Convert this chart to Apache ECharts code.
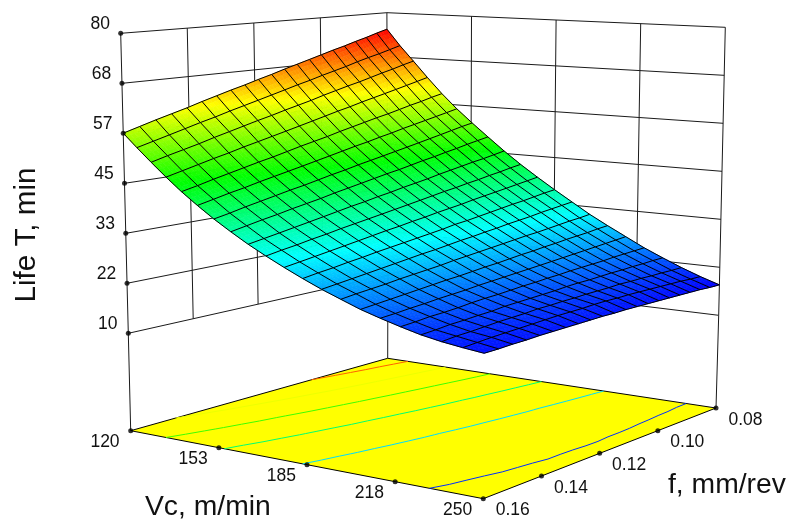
<!DOCTYPE html>
<html>
<head>
<meta charset="utf-8">
<script src="https://cdn.jsdelivr.net/npm/echarts@6/dist/echarts.min.js"></script>
<style>html,body{margin:0;padding:0;background:#fff}#c{width:790px;height:522px}</style>
</head>
<body>
<div id="c"></div>
<script>
// ---- data ----
const vcGrid = [120,126.5,133,139.5,146,152.5,159,165.5,172,178.5,185,191.5,198,204.5,211,217.5,224,230.5,237,243.5,250];
const fGrid = [0.16,0.156,0.152,0.148,0.144,0.14,0.136,0.132,0.128,0.124,0.12,0.116,0.112,0.108,0.104,0.1,0.096,0.092,0.088,0.084,0.08];
// Life T (min) : one list per Vc column, running along fGrid
const lifeVc00 = [56.7,57.8,58.9,59.9,60.9,62.0,63.0,64.0,64.9,65.9,66.8,67.8,68.7,69.6,70.5,71.4,72.2,73.1,73.9,74.8,75.6];
const lifeVc01 = [53.7,54.7,55.7,56.7,57.7,58.6,59.6,60.5,61.4,62.3,63.2,64.1,64.9,65.8,66.6,67.4,68.3,69.1,69.8,70.6,71.4];
const lifeVc02 = [50.7,51.7,52.6,53.5,54.5,55.4,56.3,57.2,58.0,58.9,59.7,60.5,61.4,62.2,63.0,63.7,64.5,65.3,66.0,66.8,67.5];
const lifeVc03 = [47.7,48.6,49.5,50.4,51.2,52.1,52.9,53.7,54.5,55.3,56.1,56.9,57.7,58.4,59.2,59.9,60.6,61.3,62.0,62.7,63.4];
const lifeVc04 = [44.8,45.6,46.5,47.3,48.1,48.9,49.6,50.4,51.2,51.9,52.6,53.4,54.1,54.8,55.5,56.1,56.8,57.5,58.1,58.8,59.4];
const lifeVc05 = [42.1,42.9,43.7,44.4,45.2,45.9,46.6,47.3,48.0,48.7,49.4,50.1,50.7,51.4,52.0,52.7,53.3,53.9,54.5,55.1,55.7];
const lifeVc06 = [39.5,40.2,41.0,41.7,42.4,43.1,43.7,44.4,45.1,45.7,46.4,47.0,47.6,48.2,48.8,49.4,50.0,50.6,51.2,51.8,52.3];
const lifeVc07 = [37.1,37.8,38.5,39.1,39.8,40.4,41.0,41.7,42.3,42.9,43.5,44.1,44.6,45.2,45.8,46.3,46.9,47.4,48.0,48.5,49.0];
const lifeVc08 = [34.8,35.4,36.0,36.6,37.2,37.8,38.4,39.0,39.5,40.1,40.6,41.2,41.7,42.2,42.8,43.3,43.8,44.3,44.7,45.2,45.7];
const lifeVc09 = [32.7,33.3,33.8,34.4,34.9,35.5,36.0,36.5,37.0,37.5,38.0,38.5,39.0,39.5,39.9,40.4,40.8,41.3,41.7,42.2,42.6];
const lifeVc10 = [30.7,31.2,31.7,32.2,32.7,33.2,33.7,34.2,34.6,35.1,35.5,36.0,36.4,36.8,37.3,37.7,38.1,38.5,38.9,39.3,39.7];
const lifeVc11 = [28.8,29.3,29.7,30.2,30.6,31.1,31.5,31.9,32.3,32.7,33.1,33.6,33.9,34.3,34.7,35.1,35.5,35.8,36.2,36.6,36.9];
const lifeVc12 = [27.0,27.4,27.8,28.2,28.6,29.0,29.4,29.8,30.1,30.5,30.9,31.2,31.6,31.9,32.3,32.6,32.9,33.3,33.6,33.9,34.2];
const lifeVc13 = [25.4,25.8,26.1,26.4,26.8,27.1,27.4,27.7,28.1,28.4,28.7,29.0,29.3,29.6,29.9,30.1,30.4,30.7,31.0,31.2,31.5];
const lifeVc14 = [23.8,24.1,24.4,24.7,25.0,25.3,25.6,25.8,26.1,26.4,26.6,26.9,27.2,27.4,27.7,27.9,28.2,28.4,28.6,28.9,29.1];
const lifeVc15 = [22.5,22.7,23.0,23.2,23.5,23.7,23.9,24.2,24.4,24.6,24.8,25.0,25.2,25.4,25.6,25.8,26.0,26.2,26.4,26.6,26.8];
const lifeVc16 = [21.3,21.5,21.8,21.9,22.1,22.4,22.6,22.7,22.9,23.1,23.2,23.4,23.5,23.7,23.8,23.9,24.0,24.2,24.3,24.4,24.5];
const lifeVc17 = [20.2,20.4,20.7,20.8,21.0,21.1,21.4,21.5,21.6,21.7,21.8,22.0,22.1,22.1,22.2,22.3,22.3,22.4,22.4,22.5,22.5];
const lifeVc18 = [19.4,19.7,19.8,20.0,20.2,20.3,20.4,20.6,20.6,20.7,20.7,20.8,20.8,20.8,20.9,20.8,20.8,20.7,20.7,20.6,20.6];
const lifeVc19 = [18.8,19.0,19.2,19.3,19.4,19.5,19.6,19.7,19.7,19.7,19.8,19.8,19.7,19.7,19.6,19.5,19.4,19.3,19.2,19.0,18.9];
const lifeVc20 = [18.3,18.3,18.4,18.4,18.5,18.5,18.5,18.5,18.5,18.5,18.4,18.4,18.3,18.2,18.1,18.0,17.9,17.8,17.7,17.5,17.4];
const life = [lifeVc00,lifeVc01,lifeVc02,lifeVc03,lifeVc04,lifeVc05,lifeVc06,lifeVc07,lifeVc08,lifeVc09,lifeVc10,lifeVc11,lifeVc12,lifeVc13,lifeVc14,lifeVc15,lifeVc16,lifeVc17,lifeVc18,lifeVc19,lifeVc20];
const contourLevels = [20,30,40,50,60,70];
const lifeTicks = [10,21.67,33.33,45,56.67,68.33,80];
const lifeTickLabels = ['10','22','33','45','57','68','80'];
const vcTicks = [120,152.5,185,217.5,250];
const vcTickLabels = ['120','153','185','218','250'];
const fTicks = [0.16,0.14,0.12,0.10,0.08];
const fTickLabels = ['0.16','0.14','0.12','0.10','0.08'];

// ---- box geometry (corner order: Vc min/f max, Vc max/f max, Vc max/f min, Vc min/f min) ----
const planeLow  = [[128.3,333.3],[484,391.9],[718.7,315.3],[387.9,275]];   // life = 10
const planeHigh = [[120.7,33.3],[485.3,66.1],[725.3,27.3],[386.9,12.7]];    // life = 80
const planeFloor= [[130.7,430.7],[483.3,498.7],[716,408],[387.7,358.3]];
const font = '"Liberation Sans", Arial, sans-serif';
const inkColor = '#1a1a1a';

const uOf = vc => (vc-120)/130;
const vOf = f => (0.16-f)/0.08;
// the box and its ticks are spaced evenly along each edge
function bil(pl,u,v){
  const w=[(1-u)*(1-v),u*(1-v),u*v,(1-u)*v];
  return [0,1].map(k=>w[0]*pl[0][k]+w[1]*pl[1][k]+w[2]*pl[2][k]+w[3]*pl[3][k]);
}
// the surface mesh and the floor contours follow true perspective
function persp(pl,u,v){
  const [A,B,C,D]=pl;
  const sx=A[0]-B[0]+C[0]-D[0], sy=A[1]-B[1]+C[1]-D[1];
  const dx1=B[0]-C[0], dy1=B[1]-C[1], dx2=D[0]-C[0], dy2=D[1]-C[1];
  const den=dx1*dy2-dx2*dy1;
  const g=(sx*dy2-dx2*sy)/den, h=(dx1*sy-sx*dy1)/den;
  const a=B[0]-A[0]+g*B[0], b=D[0]-A[0]+h*D[0], d=B[1]-A[1]+g*B[1], e=D[1]-A[1]+h*D[1];
  const w=g*u+h*v+1;
  return [(a*u+b*v+A[0])/w,(d*u+e*v+A[1])/w];
}
function proj(vc,f,t){
  const a=bil(planeLow,uOf(vc),vOf(f)), b=bil(planeHigh,uOf(vc),vOf(f)), s=(t-10)/70;
  return [a[0]+(b[0]-a[0])*s,a[1]+(b[1]-a[1])*s];
}
function projMesh(vc,f,t){
  const a=persp(planeLow,uOf(vc),vOf(f)), b=persp(planeHigh,uOf(vc),vOf(f)), s=(t-10)/70;
  return [a[0]+(b[0]-a[0])*s,a[1]+(b[1]-a[1])*s];
}
const floorPt=(vc,f)=>bil(planeFloor,uOf(vc),vOf(f));
const floorMesh=(vc,f)=>persp(planeFloor,uOf(vc),vOf(f));

const all=life.flat(), tMin=Math.min(...all), tMax=Math.max(...all);
const stops=[[0,0,255],[0,255,255],[0,255,0],[255,255,0],[255,0,0]];
function ramp(t){
  let n=Math.max(0,Math.min(1,(t-tMin)/(tMax-tMin)))*4, k=Math.min(3,Math.floor(n)), r=n-k;
  const c=[0,1,2].map(q=>Math.round(stops[k][q]+(stops[k+1][q]-stops[k][q])*r));
  return 'rgb('+c.join(',')+')';
}

const N=vcGrid.length-1, M=fGrid.length-1;
const cells=[]; for(let j=M-1;j>=0;j--) for(let i=0;i<N;i++) cells.push([i,j]);

// walls
const V0=vcTicks[0],V1=vcTicks[4],F0=fTicks[0],F1=fTicks[4],Zl=lifeTicks[0],Zh=lifeTicks[6];
const segments=[];
lifeTicks.forEach(z=>{segments.push([proj(V0,F0,z),proj(V0,F1,z),proj(V1,F1,z)]);});
[fTicks[1],fTicks[2],fTicks[3]].forEach(f=>segments.push([proj(V0,f,Zl),proj(V0,f,Zh)]));
vcTicks.slice(1,4).forEach(vc=>segments.push([proj(vc,F1,Zl),proj(vc,F1,Zh)]));
segments.push([floorPt(V0,F0),proj(V0,F0,Zl),proj(V0,F0,Zh)]);
segments.push([floorPt(V0,F1),proj(V0,F1,Zl),proj(V0,F1,Zh)]);
segments.push([floorPt(V1,F1),proj(V1,F1,Zl),proj(V1,F1,Zh)]);

// floor contours by marching squares over the life table
const contourSegs=[];
contourLevels.forEach(lv=>{
  for(let i=0;i<N;i++)for(let j=0;j<M;j++){
    const q=[[i,j],[i+1,j],[i+1,j+1],[i,j+1]], pts=[];
    for(let e=0;e<4;e++){
      const a=q[e],b=q[(e+1)%4],ta=life[a[0]][a[1]],tb=life[b[0]][b[1]];
      if((ta<lv)!==(tb<lv)){
        const s=(lv-ta)/(tb-ta);
        pts.push(floorMesh(vcGrid[a[0]]+(vcGrid[b[0]]-vcGrid[a[0]])*s,fGrid[a[1]]+(fGrid[b[1]]-fGrid[a[1]])*s));
      }
    }
    if(pts.length>=2) contourSegs.push({lv,pts:pts.slice(0,2)});
  }
});

const tickPts=[];
lifeTicks.forEach(z=>tickPts.push(proj(V0,F0,z)));
vcTicks.forEach(vc=>tickPts.push(floorPt(vc,F0)));
fTicks.slice(1).forEach(f=>tickPts.push(floorPt(V1,f)));

const labels=[];
lifeTicks.forEach((z,k)=>{const p=proj(V0,F0,z);labels.push({p,dx:-10.8,dy:-9.3,t:lifeTickLabels[k],align:'right'});});
vcTicks.forEach((vc,k)=>{labels.push({p:floorPt(vc,F0),dx:-25.7,dy:11.6,t:vcTickLabels[k],align:'center'});});
fTicks.forEach((f,k)=>{labels.push({p:floorPt(V1,f),dx:29.5,dy:11.7,t:fTickLabels[k],align:'center'});});

const SUB=4;
const chart=echarts.init(document.getElementById('c'),null,{renderer:'canvas'});
const blank=n=>Array.from({length:n},(_,i)=>[i,0]);
chart.setOption({
  animation:false,
  backgroundColor:'#fff',
  grid:{left:0,right:0,top:0,bottom:0},
  xAxis:{type:'value',min:0,max:790,show:false},
  yAxis:{type:'value',min:0,max:522,inverse:true,show:false},
  tooltip:{show:false},
  graphic:[
    {type:'text',left:145,top:493,silent:true,style:{text:'Vc, m/min',font:'28.3px '+font,fill:'#111'}},
    {type:'text',left:668,top:471,silent:true,style:{text:'f, mm/rev',font:'28.3px '+font,fill:'#111'}},
    {type:'text',x:27,y:235,rotation:Math.PI/2,silent:true,style:{text:'Life T, min',font:'29.6px '+font,fill:'#111',align:'center',verticalAlign:'middle'}}
  ],
  series:[
    {type:'custom',silent:true,clip:false,z:1,data:blank(segments.length),
     renderItem:(p,api)=>({type:'polyline',shape:{points:segments[p.dataIndex].map(q=>api.coord(q))},
       style:{stroke:inkColor,lineWidth:1,fill:null}})},
    {type:'custom',silent:true,clip:false,z:2,data:[[0,0]],
     renderItem:(p,api)=>({type:'polygon',shape:{points:planeFloor.map(q=>api.coord(q))},
       style:{fill:'#ffff00',stroke:'#000',lineWidth:1}})},
    {type:'custom',silent:true,clip:false,z:3,data:blank(contourSegs.length),
     renderItem:(p,api)=>{const s=contourSegs[p.dataIndex];return {type:'line',
       shape:{x1:api.coord(s.pts[0])[0],y1:api.coord(s.pts[0])[1],x2:api.coord(s.pts[1])[0],y2:api.coord(s.pts[1])[1]},
       style:{stroke:ramp(s.lv),lineWidth:1}};}},
    {type:'custom',silent:true,clip:false,z:4,data:blank(cells.length),
     renderItem:(p,api)=>{
       const [i,j]=cells[p.dataIndex], children=[];
       const t00=life[i][j],t10=life[i+1][j],t11=life[i+1][j+1],t01=life[i][j+1];
       const at=(a,b)=>{
         const vc=vcGrid[i]+(vcGrid[i+1]-vcGrid[i])*a, f=fGrid[j]+(fGrid[j+1]-fGrid[j])*b;
         const t=t00*(1-a)*(1-b)+t10*a*(1-b)+t11*a*b+t01*(1-a)*b;
         return {c:api.coord(projMesh(vc,f,t)),t};
       };
       for(let a=0;a<SUB;a++)for(let b=0;b<SUB;b++){
         const q=[at(a/SUB,b/SUB),at((a+1)/SUB,b/SUB),at((a+1)/SUB,(b+1)/SUB),at(a/SUB,(b+1)/SUB)];
         const col=ramp((q[0].t+q[1].t+q[2].t+q[3].t)/4);
         children.push({type:'polygon',shape:{points:q.map(e=>e.c)},style:{fill:col,stroke:col,lineWidth:0.6}});
       }
       return {type:'group',children};
     }},
    {type:'custom',silent:true,clip:false,z:5,data:blank(N+M+2),
     renderItem:(p,api)=>{
       const k=p.dataIndex, pts=[];
       if(k<=N){ for(let j=0;j<=M;j++) pts.push(api.coord(projMesh(vcGrid[k],fGrid[j],life[k][j]))); }
       else { const j=k-N-1; for(let i=0;i<=N;i++) pts.push(api.coord(projMesh(vcGrid[i],fGrid[j],life[i][j]))); }
       return {type:'polyline',shape:{points:pts},style:{stroke:'#000',lineWidth:1,fill:null}};
     }},
    {type:'scatter',silent:true,clip:false,z:6,symbol:'circle',symbolSize:5,itemStyle:{color:'#000'},data:tickPts},
    {type:'custom',silent:true,clip:false,z:7,data:blank(labels.length),
     renderItem:(p,api)=>{const l=labels[p.dataIndex],c=api.coord(l.p);
       return {type:'text',x:c[0]+l.dx,y:c[1]+l.dy,style:{text:l.t,font:'17.5px '+font,fill:'#111',align:l.align,verticalAlign:'middle'}};}}
  ]
});
</script>
</body>
</html>
